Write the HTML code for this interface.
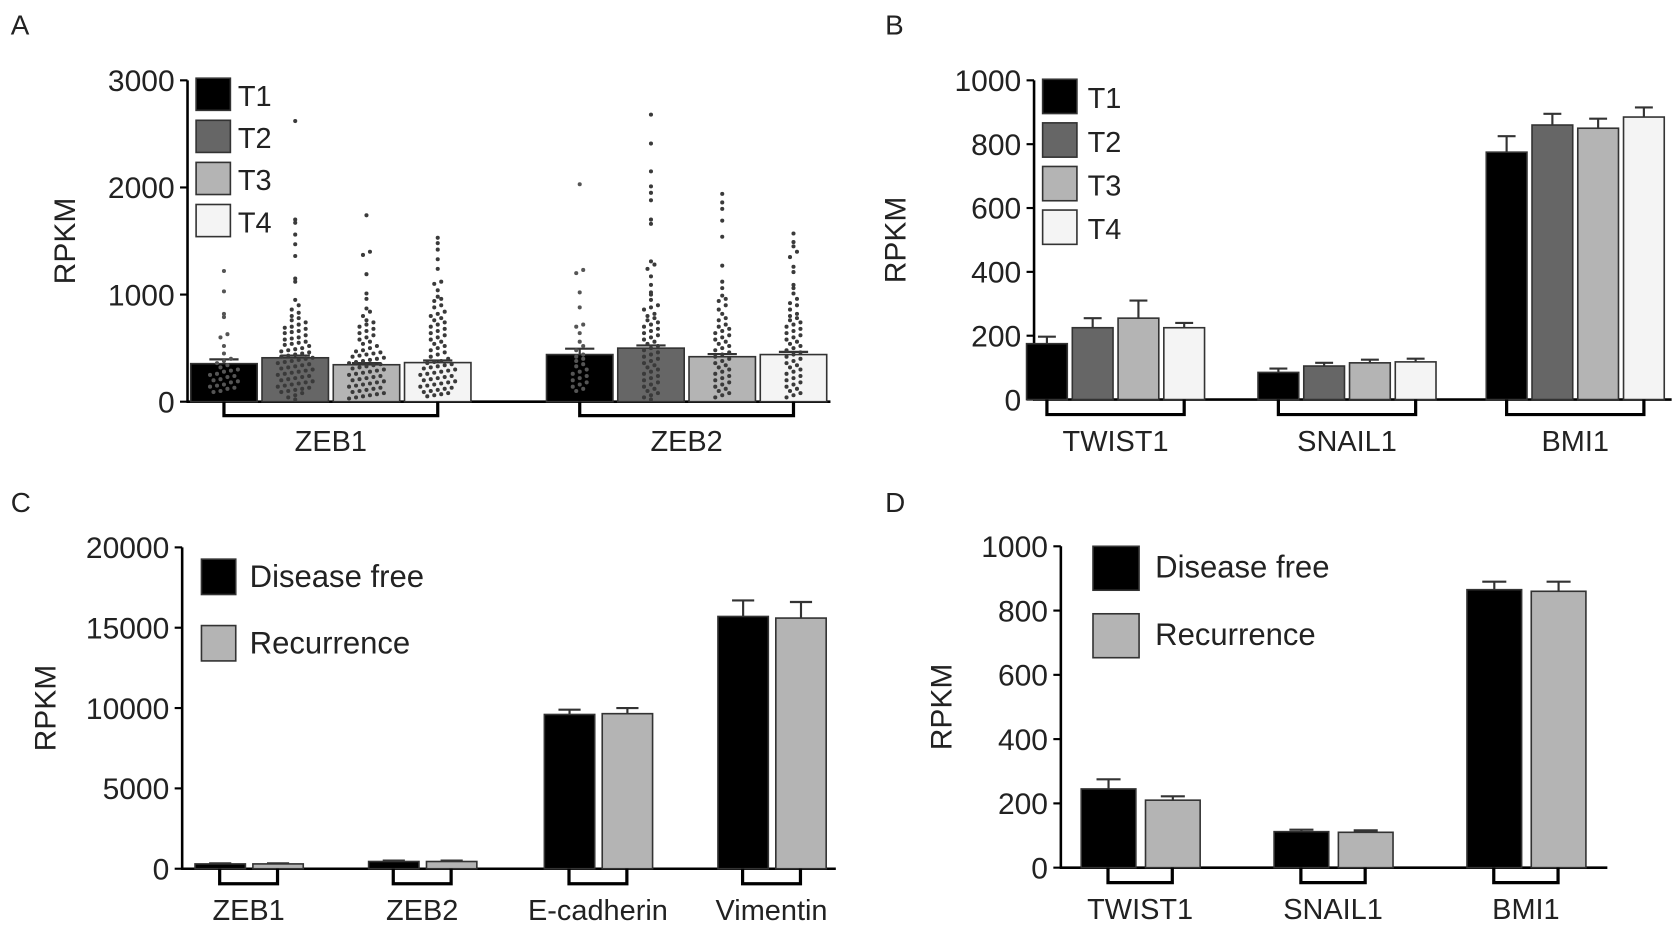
<!DOCTYPE html>
<html><head><meta charset="utf-8"><style>
html,body{margin:0;padding:0;background:#fff;}
svg{display:block;font-family:"Liberation Sans",Arial,sans-serif;}
</style></head><body>
<svg id="fig" width="1677" height="933" viewBox="0 0 1565 871" preserveAspectRatio="none" xmlns="http://www.w3.org/2000/svg"></svg>
<script>
// ---------- DATA ----------
const tierLabels = ["T1","T2","T3","T4"];
const tierColors = ["#000000","#666666","#b4b4b4","#f4f4f4"];
const groupColors = ["#000000","#b4b4b4"];
const groupLabels = ["Disease free","Recurrence"];

// Panel A
const aGenes = ["ZEB1","ZEB2"];
const aMeans = [[355,410,345,365],[440,500,420,440]];
const aErr = [[40,20,15,20],[55,25,25,25]];
const aTicks = [0,1000,2000,3000];
const aDots = [
 [[1220,1030,820,790,630,600,520,450,400,380,360,340,320,300,290,280,260,250,240,230,210,200,190,180,160,150,140,130,120,100,90],
  [2620,1700,1670,1560,1470,1360,1150,1120,950,900,860,830,800,780,760,740,720,700,690,680,660,650,640,620,600,590,580,560,550,540,530,520,500,490,480,470,460,450,440,430,420,410,400,390,380,370,360,350,340,330,320,310,300,290,280,270,260,250,240,230,220,210,200,190,180,170,160,150,140,130,120,110,100,90,80,60,40,20],
  [1740,1400,1370,1190,1010,960,870,840,800,760,740,720,700,680,660,640,620,600,580,560,540,520,500,480,470,460,450,440,430,420,410,400,390,380,370,360,350,340,330,320,310,300,290,280,270,260,250,240,230,220,210,200,190,180,170,160,150,140,130,120,110,100,90,80,70,60,50,40,30],
  [1530,1480,1420,1330,1240,1120,1100,1040,980,960,940,900,880,840,820,800,780,760,740,720,700,680,660,640,620,600,580,560,540,520,500,480,460,440,420,400,380,370,360,350,340,330,320,310,300,290,280,270,260,250,240,230,220,210,200,190,180,170,160,150,140,130,120,110,100,90,80,70,60,50]],
 [[2030,1230,1200,1020,880,720,700,640,560,520,480,440,420,400,380,350,330,300,280,260,240,220,200,180,160,140,120,100],
  [2680,2410,2150,2010,1950,1880,1700,1660,1310,1280,1240,1170,1090,1020,1000,950,900,880,860,820,800,780,760,740,720,700,680,660,640,620,600,580,560,540,520,500,480,460,440,420,400,380,360,340,320,300,280,260,240,220,200,180,160,140,120,100,80,60,40,20],
  [1940,1860,1800,1690,1540,1270,1120,1060,990,960,940,900,860,820,780,760,720,700,680,660,640,620,600,580,560,540,520,500,480,460,440,420,400,380,360,340,320,300,280,260,240,220,200,180,160,140,120,100,80,60,40],
  [1570,1490,1450,1400,1350,1260,1210,1090,1060,1010,960,920,900,860,820,800,780,760,740,720,700,680,660,640,620,600,580,560,540,520,500,480,460,440,420,400,380,360,340,320,300,280,260,240,220,200,180,160,140,120,100,80,60,40]]
];

// Panel B
const bGenes = ["TWIST1","SNAIL1","BMI1"];
const bMeans = [[175,225,255,225],[85,105,115,118],[775,860,850,885]];
const bErr = [[22,30,55,15],[12,10,10,10],[50,35,30,30]];
const bTicks = [0,200,400,600,800,1000];

// Panel C
const cGenes = ["ZEB1","ZEB2","E-cadherin","Vimentin"];
const cMeans = [[300,300],[450,450],[9600,9650],[15700,15600]];
const cErr = [[40,40],[60,60],[300,350],[1000,1000]];
const cTicks = [0,5000,10000,15000,20000];

// Panel D
const dGenes = ["TWIST1","SNAIL1","BMI1"];
const dMeans = [[245,210],[112,110],[865,860]];
const dErr = [[30,12],[6,6],[25,30]];
const dTicks = [0,200,400,600,800,1000];

// ---------- DRAW ----------
const svg = document.getElementById('fig');
const NS = "http://www.w3.org/2000/svg";
function el(tag, attrs, parent, text){
  const e = document.createElementNS(NS, tag);
  for (const k in attrs) e.setAttribute(k, attrs[k]);
  if (text !== undefined) e.textContent = text;
  (parent || svg).appendChild(e);
  return e;
}
function yScale(y0, y1, vmax){ return v => y0 - (v / vmax) * (y0 - y1); }

function axis(g, x, y0, y1, xEnd, ticks, ys, fs, yl, ylx){
  const a = el('line',{x1:x,y1:y1,x2:x,y2:y0,stroke:'#000','stroke-width':2.4},g);
   
  const b = el('line',{x1:x-1,y1:y0,x2:xEnd,y2:y0,stroke:'#000','stroke-width':2.4},g);
   
  ticks.forEach(t=>{
    el('line',{x1:x-7,y1:ys(t),x2:x,y2:ys(t),stroke:'#000','stroke-width':2},g);
    const tl = el('text',{x:x-12,y:ys(t)+10,'text-anchor':'end','font-size':fs,fill:'#222'},g,String(t));
     
  });
  const t = el('text',{transform:`translate(${ylx},${(y0+y1)/2}) rotate(-90)`,'text-anchor':'middle','font-size':28,fill:'#222'},g,'RPKM');
   
}
function bar(g, x, w, v, e, ys, fill, name){
  const r = el('rect',{x:x,y:ys(v),width:w,height:ys(0)-ys(v),fill:fill,stroke:'#333','stroke-width':1.5},g);
   
  const cx = x + w/2;
  const eb = el('path',{d:`M${cx},${ys(v)} V${ys(v+e)} M${cx-w*0.22},${ys(v+e)} H${cx+w*0.22}`,stroke:'#333','stroke-width':2,fill:'none'},g);
   
}
function bracket(g, x1, x2, y, h, label, ly, fs){
  const b = el('path',{d:`M${x1},${y} V${y+h} H${x2} V${y}`,stroke:'#000','stroke-width':3,fill:'none'},g);
   
  const t = el('text',{x:(x1+x2)/2,y:ly,'text-anchor':'middle','font-size':fs,fill:'#222'},g,label);
   
}
function letter(x,y,s){
  const t = el('text',{x:x,y:y,'font-size':26,fill:'#222'},svg,s);
   
}

// Panel A
(function(){
  const g = el('g',{});  
  const ys = yScale(375, 75, 3000);
  axis(g,175,375,75,775,aTicks,ys,28,'RPKM',70);
  const starts=[178,510], w=62, step=66.5;
  aGenes.forEach((gn,gi)=>{
    aMeans[gi].forEach((v,i)=>{
      const x = starts[gi]+i*step;
      bar(g,x,w,v,aErr[gi][i],ys,tierColors[i],'bar-'+gn.toLowerCase()+'-'+tierLabels[i].toLowerCase());
      const vals = aDots[gi][i].slice().sort((a,b)=>a-b);
      const rows = {};
      vals.forEach(val=>{ const k=Math.round(val/55); (rows[k]=rows[k]||[]).push(val); });
      Object.keys(rows).forEach(k=>{
        const arr = rows[k]; const n = arr.length;
        arr.forEach((val,j)=>{
          const off = (j-(n-1)/2)*6.5;
          const c = el('circle',{cx:x+w/2+off,cy:ys(val),r:1.9,fill:(i===0?'#555':'#3a3a3a')},g);
           
        });
      });
    });
    bracket(g,starts[gi]+31,starts[gi]+3*step+31,375,13,gn,421,27);
  });
  tierLabels.forEach((t,i)=>{
    const y = 73+i*39.3;
    const r = el('rect',{x:183,y:y,width:32,height:30,fill:tierColors[i],stroke:'#333','stroke-width':1.5},g);
     
    const tx = el('text',{x:222,y:y+26,'font-size':27,fill:'#222'},g,t);
     
  });
})();
letter(10,32,'A');

// Panel B
(function(){
  const g = el('g',{});  
  const ys = yScale(373, 75, 1000);
  axis(g,965,373,75,1560,bTicks,ys,28,'RPKM',845);
  const starts=[958,1174,1387], w=38, step=42.7;
  bGenes.forEach((gn,gi)=>{
    bMeans[gi].forEach((v,i)=>bar(g,starts[gi]+i*step,w,v,bErr[gi][i],ys,tierColors[i],'bar-'+gn.toLowerCase()+'-'+tierLabels[i].toLowerCase()));
    bracket(g,starts[gi]+19,starts[gi]+3*step+19,373,14,gn,421,27);
  });
  tierLabels.forEach((t,i)=>{
    const y = 74+i*40.7;
    const r = el('rect',{x:973,y:y,width:32,height:32,fill:tierColors[i],stroke:'#333','stroke-width':1.5},g);
     
    const tx = el('text',{x:1015,y:y+27,'font-size':27,fill:'#222'},g,t);
     
  });
})();
letter(826,32,'B');

// Panel C
(function(){
  const g = el('g',{});  
  const ys = yScale(811, 511, 20000);
  axis(g,170,811,511,780,cTicks,ys,28,'RPKM',52);
  const starts=[182,344,508,670], w=47, gap=54;
  cGenes.forEach((gn,gi)=>{
    cMeans[gi].forEach((v,i)=>bar(g,starts[gi]+i*gap,w,v,cErr[gi][i],ys,groupColors[i],'bar-'+gn.toLowerCase()+'-'+(i?'recurrence':'disease-free')));
    bracket(g,starts[gi]+23,starts[gi]+gap+23,811,14,gn,859,27);
  });
  groupLabels.forEach((t,i)=>{
    const y = 522+i*62;
    const r = el('rect',{x:188,y:y,width:32,height:33,fill:groupColors[i],stroke:'#333','stroke-width':1.5},g);
     
    const tx = el('text',{x:233,y:y+26,'font-size':29,fill:'#222'},g,t);
     
  });
})();
letter(10,478,'C');

// Panel D
(function(){
  const g = el('g',{});  
  const ys = yScale(810, 510, 1000);
  axis(g,990,810,510,1500,dTicks,ys,28,'RPKM',888);
  const starts=[1009,1189,1369], w=51, gap=60;
  dGenes.forEach((gn,gi)=>{
    dMeans[gi].forEach((v,i)=>bar(g,starts[gi]+i*gap,w,v,dErr[gi][i],ys,groupColors[i],'bar-'+gn.toLowerCase()+'-'+(i?'recurrence':'disease-free')));
    bracket(g,starts[gi]+25,starts[gi]+gap+25,810,14,gn,858,27);
  });
  groupLabels.forEach((t,i)=>{
    const y = 510+i*63;
    const r = el('rect',{x:1020,y:y,width:43,height:41,fill:groupColors[i],stroke:'#333','stroke-width':1.5},g);
     
    const tx = el('text',{x:1078,y:y+29,'font-size':29,fill:'#222'},g,t);
     
  });
})();
letter(826,478,'D');
</script>
</body></html>
